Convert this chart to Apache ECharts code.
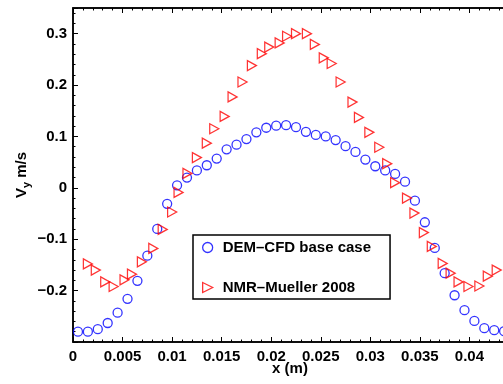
<!DOCTYPE html>
<html>
<head>
<meta charset="utf-8">
<script src="https://cdn.jsdelivr.net/npm/echarts@6/dist/echarts.min.js"></script>
<style>html,body{margin:0;padding:0;background:#fff;}#c{width:503px;height:384px;}</style>
</head>
<body>
<div id="c"></div>
<script>
const demName = 'DEM–CFD base case';
const nmrName = 'NMR–Mueller 2008';
const demX = [0.0005,0.0015,0.0025,0.0035,0.0045,0.0055,0.0065,0.0075,0.0085,0.0095,0.0105,0.0115,0.0125,0.0135,0.0145,0.0155,0.0165,0.0175,0.0185,0.0195,0.0205,0.0215,0.0225,0.0235,0.0245,0.0255,0.0265,0.0275,0.0285,0.0295,0.0305,0.0315,0.0325,0.0335,0.0345,0.0355,0.0365,0.0375,0.0385,0.0395,0.0405,0.0415,0.0425,0.0435];
const demY = [-0.280,-0.280,-0.275,-0.263,-0.243,-0.216,-0.181,-0.132,-0.080,-0.031,0.005,0.020,0.034,0.044,0.057,0.075,0.084,0.095,0.108,0.117,0.121,0.122,0.118,0.109,0.103,0.100,0.093,0.081,0.070,0.055,0.042,0.034,0.027,0.012,-0.025,-0.067,-0.117,-0.166,-0.209,-0.238,-0.259,-0.273,-0.277,-0.279];
const nmrX = [0.0015,0.0023,0.00325,0.0041,0.0052,0.00595,0.00695,0.0081,0.00905,0.0100,0.01065,0.01155,0.0125,0.0135,0.01425,0.0153,0.0161,0.0171,0.01805,0.01905,0.0198,0.02085,0.0216,0.0225,0.0236,0.0244,0.0253,0.0261,0.0270,0.0282,0.02885,0.0299,0.0309,0.0317,0.0325,0.0337,0.03445,0.0354,0.0362,0.0373,0.0381,0.0389,0.0399,0.0410,0.04185,0.04275];
const nmrY = [-0.148,-0.160,-0.183,-0.192,-0.179,-0.168,-0.144,-0.118,-0.081,-0.047,-0.009,0.028,0.059,0.087,0.115,0.139,0.177,0.206,0.238,0.261,0.274,0.282,0.295,0.300,0.300,0.279,0.253,0.242,0.206,0.167,0.137,0.108,0.079,0.047,0.010,-0.020,-0.049,-0.087,-0.114,-0.147,-0.166,-0.183,-0.192,-0.191,-0.172,-0.160];

const FONT = 'Liberation Sans, Arial, Helvetica, sans-serif';
const triPath = 'path://M0,0L10,5L0,10Z';
const circStyle = {color: 'rgba(0,0,0,0)', borderColor: '#0000ff', borderWidth: 1.3};
const triStyle = {color: 'rgba(0,0,0,0)', borderColor: '#ff0000', borderWidth: 1.3};

function fmt(v) {
  const s = String(parseFloat(v.toFixed(4)));
  return s.replace('-', '\u2212');
}
function common() {
  return {
    axisLine: {show: true, onZero: false, lineStyle: {color: '#000', width: 1.5}},
    axisTick: {show: true, inside: true, length: 5, lineStyle: {color: '#000', width: 1}},
    minorTick: {show: true, splitNumber: 5, length: 2.5, lineStyle: {color: '#000', width: 1}},
    splitLine: {show: false},
    minorSplitLine: {show: false}
  };
}
const chart = echarts.init(document.getElementById('c'), null, {renderer: 'canvas'});
chart.setOption({
  animation: false,
  backgroundColor: '#fff',
  textStyle: {fontFamily: FONT},
  grid: {left: 73, top: 8, width: 446, height: 334, containLabel: false, outerBoundsMode: 'none',
         show: true, borderColor: '#000', borderWidth: 1.5, backgroundColor: 'transparent'},
  legend: {
    left: 193, top: 235, orient: 'vertical',
    itemWidth: 10, itemHeight: 10, itemGap: 25,
    padding: [5, 19, 4, 9],
    borderColor: '#000', borderWidth: 1.5, backgroundColor: '#fff',
    textStyle: {fontFamily: FONT, fontWeight: 'bold', fontSize: 15, color: '#000', padding: [0, 0, 0, 5]},
    data: [
      {name: demName, icon: 'circle', itemStyle: circStyle},
      {name: nmrName, icon: triPath, itemStyle: triStyle}
    ]
  },
  xAxis: [
    Object.assign(common(), {
      type: 'value', min: 0, max: 0.045, interval: 0.005, position: 'bottom',
      name: 'x (m)', nameLocation: 'middle', nameGap: 19, nameMoveOverlap: false,
      nameTextStyle: {fontFamily: FONT, fontWeight: 'bold', fontSize: 15, color: '#000', padding: [0, 12, 0, 0]},
      axisLabel: {show: true, margin: 7, showMaxLabel: false, fontFamily: FONT, fontWeight: 'bold', fontSize: 15, color: '#000', formatter: fmt}
    }),
    Object.assign(common(), {
      type: 'value', min: 0, max: 0.045, interval: 0.005, position: 'top',
      axisLabel: {show: false}
    })
  ],
  yAxis: [
    Object.assign(common(), {
      type: 'value', min: -0.3, max: 0.35, interval: 0.1,
      name: '{v|V}{s|y}{v| m/s}', nameLocation: 'middle', nameGap: 40, nameRotate: 90, nameMoveOverlap: false,
      nameTextStyle: {
        rich: {
          v: {fontFamily: FONT, fontWeight: 'bold', fontSize: 15, color: '#000', lineHeight: 22},
          s: {fontFamily: FONT, fontWeight: 'bold', fontSize: 11, color: '#000', lineHeight: 22, padding: [10, 0, 0, 0]}
        }
      },
      axisLabel: {show: true, margin: 6, showMinLabel: false, showMaxLabel: false, fontFamily: FONT, fontWeight: 'bold', fontSize: 15, color: '#000', formatter: fmt}
    })
  ],
  series: [
    {
      name: demName, type: 'scatter', xAxisIndex: 0, yAxisIndex: 0,
      symbol: 'circle', symbolSize: 9, itemStyle: circStyle,
      data: demX.map((x, i) => [x, demY[i]]), z: 2
    },
    {
      name: nmrName, type: 'scatter', xAxisIndex: 0, yAxisIndex: 0,
      symbol: triPath, symbolSize: [9, 10], itemStyle: triStyle,
      data: nmrX.map((x, i) => [x, nmrY[i]]), z: 3
    }
  ]
});
</script>
</body>
</html>
